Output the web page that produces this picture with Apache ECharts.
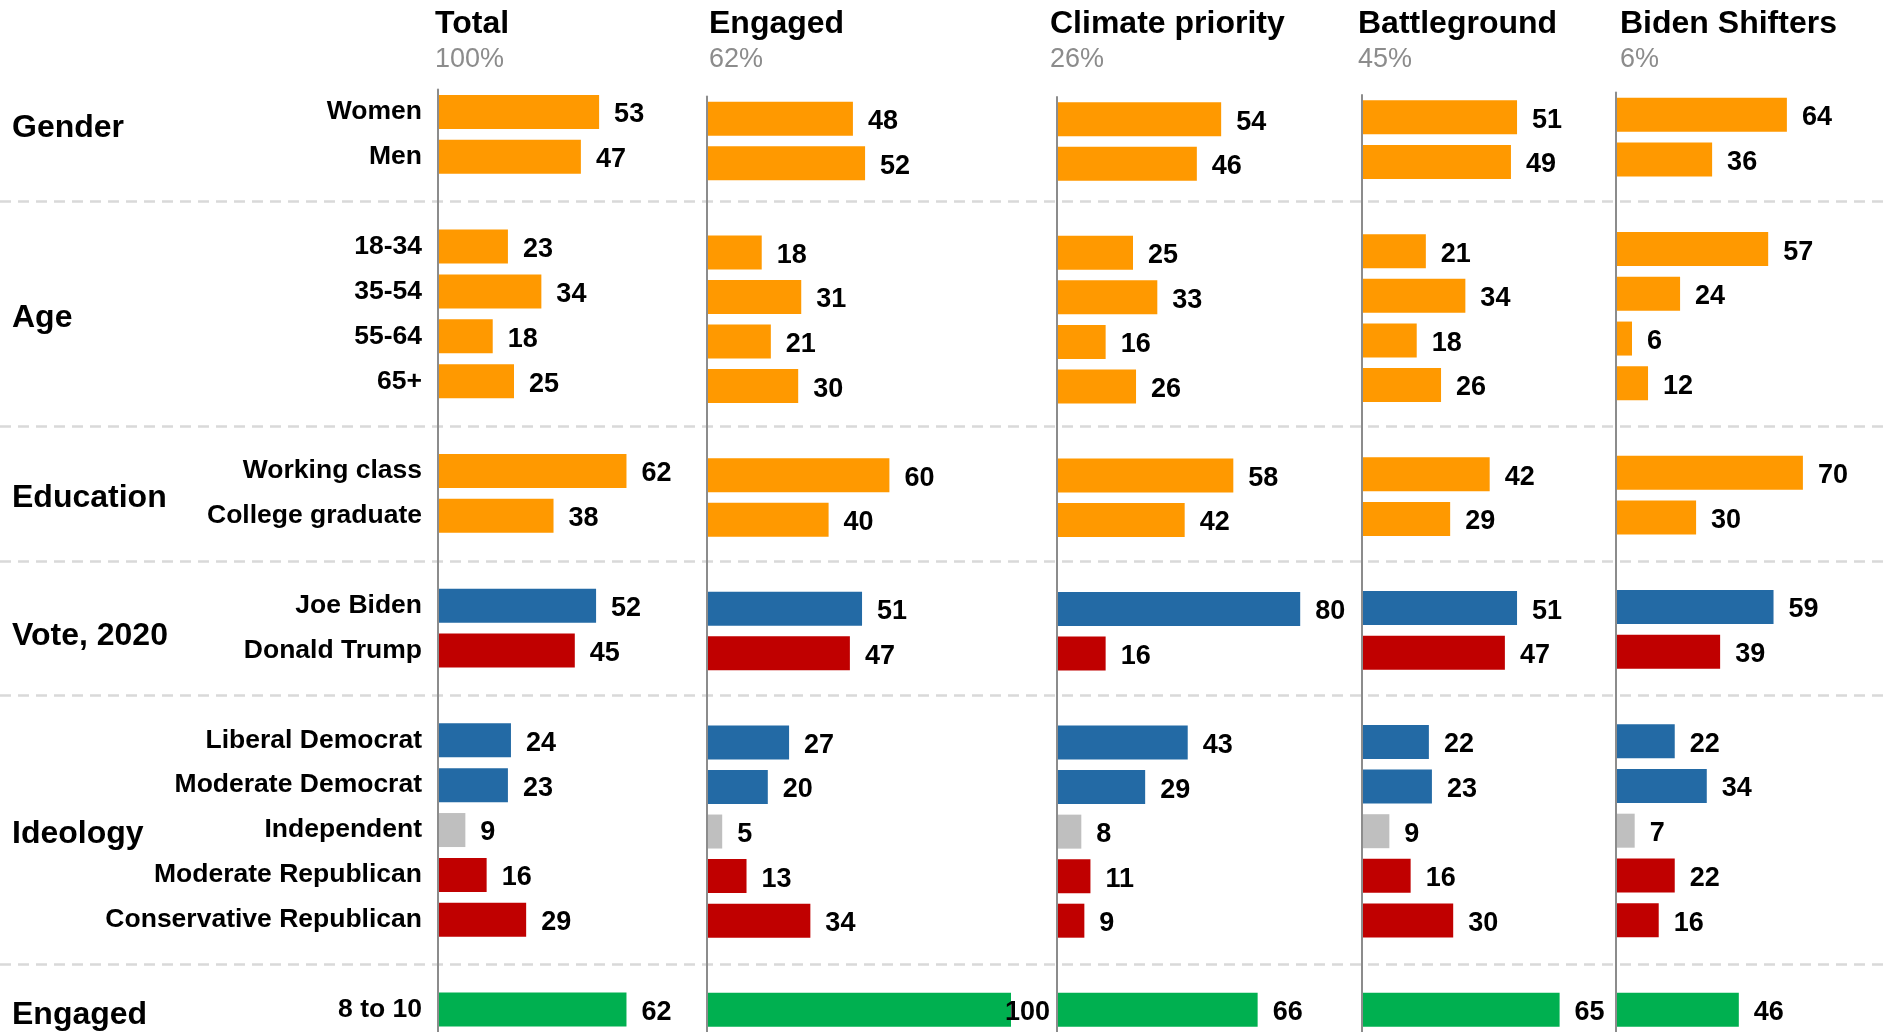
<!DOCTYPE html>
<html>
<head>
<meta charset="utf-8">
<title>Segments</title>
<script src="https://cdn.jsdelivr.net/npm/echarts@6/dist/echarts.min.js"></script>
<style>
    html, body { margin: 0; padding: 0; background: #fff; }
    #chart { width: 1883px; height: 1032px; }
</style>
</head>
<body>
<div id="chart"></div>
<script>
    // rows top to bottom, '' = spacer row between groups
    var rows = ['Women', 'Men', '',
        '18-34', '35-54', '55-64', '65+', '',
        'Working class', 'College graduate', '',
        'Joe Biden', 'Donald Trump', '',
        'Liberal Democrat', 'Moderate Democrat', 'Independent', 'Moderate Republican', 'Conservative Republican', '',
        '8 to 10'];
    // kind of each real row, decides bar colour
    var rowKinds = ['demo', 'demo', 'demo', 'demo', 'demo', 'demo', 'demo', 'demo',
        'dem', 'rep', 'dem', 'dem', 'ind', 'rep', 'rep', 'eng'];

    var groupNames = ['Gender', 'Age', 'Education', 'Vote, 2020', 'Ideology', 'Engaged'];
    var groupFirst = [0, 3, 8, 11, 14, 20];
    var groupLast = [1, 6, 9, 12, 18, 20];

    var panelTitles = ['Total', 'Engaged', 'Climate priority', 'Battleground', 'Biden Shifters'];
    var panelShares = ['100%', '62%', '26%', '45%', '6%'];

    var totalValues = [53, 47, 23, 34, 18, 25, 62, 38, 52, 45, 24, 23, 9, 16, 29, 62];
    var engagedValues = [48, 52, 18, 31, 21, 30, 60, 40, 51, 47, 27, 20, 5, 13, 34, 100];
    var climateValues = [54, 46, 25, 33, 16, 26, 58, 42, 80, 16, 43, 29, 8, 11, 9, 66];
    var battlegroundValues = [51, 49, 21, 34, 18, 26, 42, 29, 51, 47, 22, 23, 9, 16, 30, 65];
    var shiftersValues = [64, 36, 57, 24, 6, 12, 70, 30, 59, 39, 22, 34, 7, 22, 16, 46];

    var panelValues = [totalValues, engagedValues, climateValues, battlegroundValues, shiftersValues];

    //layout
    var panelLeft = [438, 707, 1057, 1362, 1616];
    var panelTop = [89.5, 96.5, 97, 95, 92.5];
    var titleLeft = [435, 709, 1050, 1358, 1620];
    var groupNudge = [-6, 4, 5, 8, 4, 6];
    var band = 45;
    var pxPerPoint = 3.04;

    var kindColor = {
        demo: '#FF9900',
        dem: '#236AA5',
        rep: '#C00000',
        ind: '#BFBFBF',
        eng: '#00B050'
    };
    var font = "'Liberation Sans', Arial, sans-serif";

    var chart = echarts.init(document.getElementById('chart'));

    var grids = [], xAxes = [], yAxes = [], series = [], titles = [];

    // spacer rows get unique blank names so the category axis keeps them apart
    var cats = rows.map(function (r, i) {
        return r === '' ? ' '.repeat(i) : r;
    });

    panelValues.forEach(function (vals, p) {
        grids.push({
            left: panelLeft[p],
            top: panelTop[p],
            width: 100 * pxPerPoint,
            height: rows.length * band
        });
        xAxes.push({
            type: 'value', gridIndex: p, min: 0, max: 100, show: false
        });
        yAxes.push({
            type: 'category', gridIndex: p, data: cats, inverse: true,
            axisTick: {show: false},
            axisLine: {show: true, lineStyle: {color: '#8c8c8c', width: 2}},
            axisLabel: {
                show: p === 0,
                margin: 16,
                color: '#000',
                fontSize: 26.5,
                fontWeight: 'bold',
                fontFamily: font,
                padding: [8, 0, 0, 0]
            },
            splitLine: {show: false},
            z: 5
        });

        var k = 0;
        var data = rows.map(function (r) {
            if (r === '') return '-';
            var v = vals[k];
            var kind = rowKinds[k];
            k++;
            return {
                value: v,
                itemStyle: {color: kindColor[kind]},
                label: {distance: v >= 100 ? -6 : 15}
            };
        });

        series.push({
            type: 'bar',
            xAxisIndex: p,
            yAxisIndex: p,
            barWidth: 34,
            data: data,
            label: {
                show: true,
                position: 'right',
                offset: [0, 3],
                color: '#000',
                fontSize: 27,
                fontWeight: 'bold',
                fontFamily: font
            },
            z: 3
        });

        titles.push({
            text: panelTitles[p],
            subtext: panelShares[p],
            left: titleLeft[p],
            top: 8,
            itemGap: 6,
            padding: 0,
            textStyle: {fontSize: 32, fontWeight: 'bold', color: '#000', fontFamily: font},
            subtextStyle: {fontSize: 27, color: '#8c8c8c', fontFamily: font}
        });
    });

    // full width overlay: group names and dashed separators
    var ov = panelValues.length;
    grids.push({left: 0, right: 0, top: panelTop[0], height: rows.length * band});
    xAxes.push({type: 'value', gridIndex: ov, min: 0, max: 1, show: false});
    yAxes.push({
        type: 'value', gridIndex: ov, min: -0.5, max: rows.length - 0.5,
        inverse: true, show: false
    });

    var gapRows = [];
    rows.forEach(function (r, i) {
        if (r === '') gapRows.push(i);
    });

    series.push({
        type: 'scatter',
        xAxisIndex: ov,
        yAxisIndex: ov,
        symbolSize: 0,
        silent: true,
        itemStyle: {opacity: 1},
        data: groupNames.map(function (g, i) {
            return {
                name: g,
                value: [0, (groupFirst[i] + groupLast[i]) / 2],
                label: {offset: [0, groupNudge[i]]}
            };
        }),
        label: {
            show: true,
            position: 'right',
            distance: 12,
            formatter: '{b}',
            color: '#000',
            fontSize: 32,
            fontWeight: 'bold',
            fontFamily: font
        },
        markLine: {
            silent: true,
            symbol: 'none',
            label: {show: false},
            lineStyle: {color: '#d9d9d9', width: 2.5, type: [11, 7]},
            data: gapRows.map(function (i) {
                return {yAxis: i};
            })
        },
        z: 1
    });

    chart.setOption({
        animation: false,
        textStyle: {fontFamily: font},
        title: titles,
        grid: grids,
        xAxis: xAxes,
        yAxis: yAxes,
        series: series
    });
</script>
</body>
</html>
